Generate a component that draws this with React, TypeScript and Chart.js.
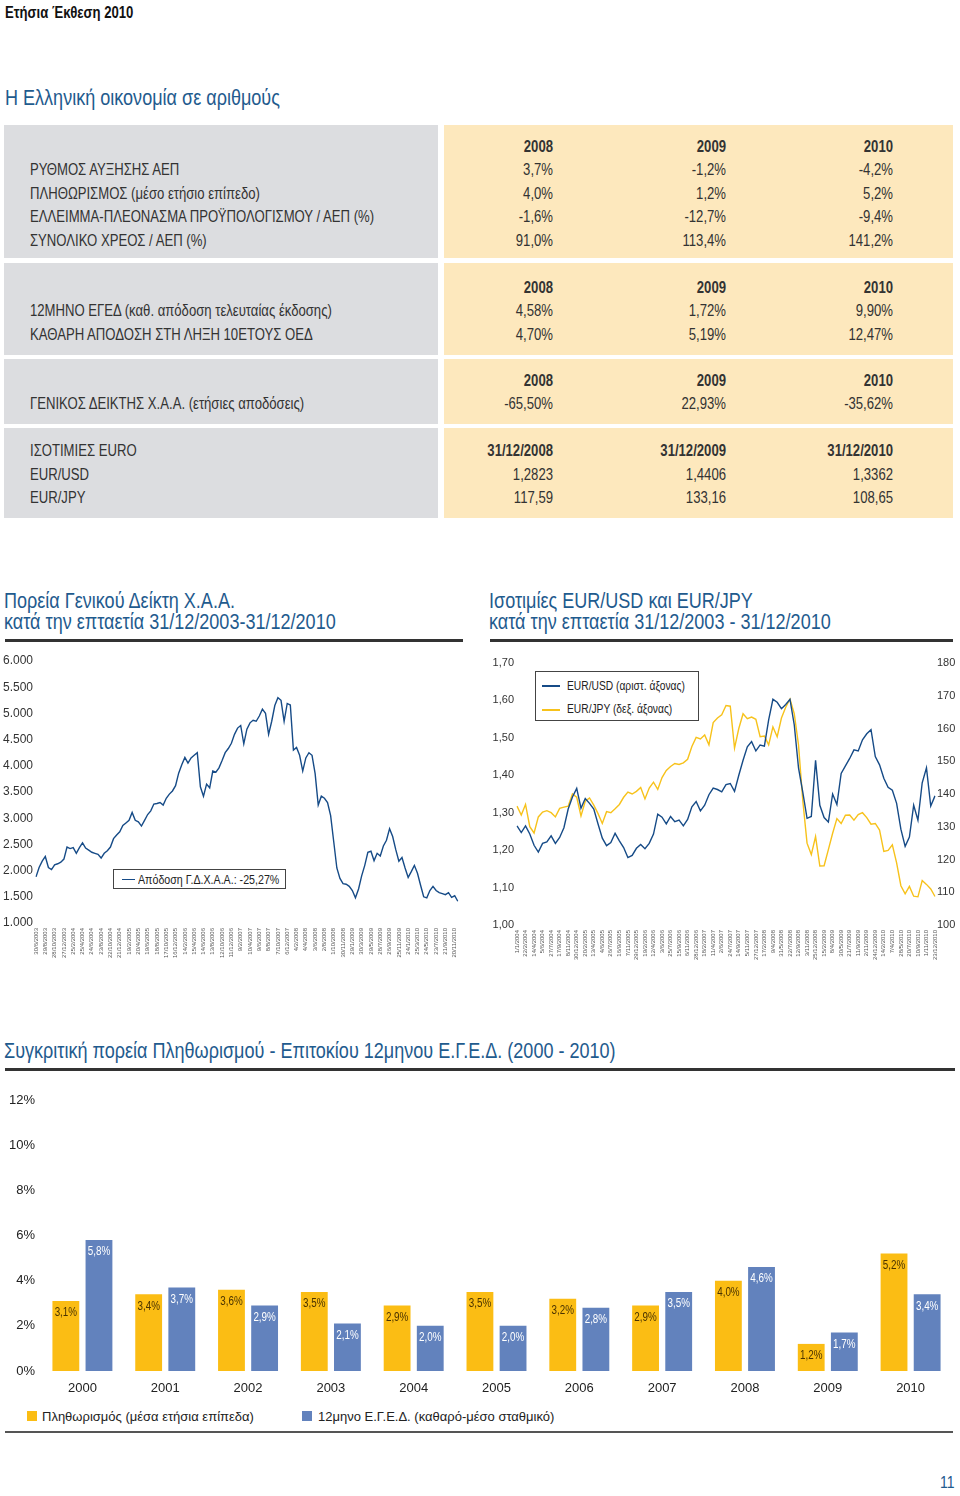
import React, { useEffect, useRef } from 'react';
import { Chart, registerables } from 'chart.js';

Chart.register(...registerables);

const SANS = '"Liberation Sans", Arial, sans-serif';
const NARROW_SCALE = 0.82;
const TITLE_BLUE = '#1f5b8e';
const TEXT = '#333333';

// ---------- Table data ----------
const tableYears = ['2008', '2009', '2010'];
const rateDates = ['31/12/2008', '31/12/2009', '31/12/2010'];
const macroLabels = [
  'ΡΥΘΜΟΣ ΑΥΞΗΣΗΣ ΑΕΠ',
  'ΠΛΗΘΩΡΙΣΜΟΣ (μέσο ετήσιο επίπεδο)',
  'ΕΛΛΕΙΜΜΑ-ΠΛΕΟΝΑΣΜΑ ΠΡΟΫΠΟΛΟΓΙΣΜΟΥ / ΑΕΠ (%)',
  'ΣΥΝΟΛΙΚΟ ΧΡΕΟΣ / ΑΕΠ (%)',
];
const macroValues = [
  ['3,7%', '-1,2%', '-4,2%'],
  ['4,0%', '1,2%', '5,2%'],
  ['-1,6%', '-12,7%', '-9,4%'],
  ['91,0%', '113,4%', '141,2%'],
];
const bondLabels = ['12ΜΗΝΟ ΕΓΕΔ (καθ. απόδοση τελευταίας έκδοσης)', 'ΚΑΘΑΡΗ ΑΠΟΔΟΣΗ ΣΤΗ ΛΗΞΗ 10ΕΤΟΥΣ ΟΕΔ'];
const bondValues = [
  ['4,58%', '1,72%', '9,90%'],
  ['4,70%', '5,19%', '12,47%'],
];
const indexLabels = ['ΓΕΝΙΚΟΣ ΔΕΙΚΤΗΣ Χ.Α.Α. (ετήσιες αποδόσεις)'];
const indexValues = [['-65,50%', '22,93%', '-35,62%']];
const fxHeaderLabel = 'ΙΣΟΤΙΜΙΕΣ EURO';
const fxLabels = ['EUR/USD', 'EUR/JPY'];
const fxValues = [
  ['1,2823', '1,4406', '1,3362'],
  ['117,59', '133,16', '108,65'],
];

// ---------- ATHEX general index ----------
const athexDates = ['30/6/2003', '29/8/2003', '28/10/2003', '27/12/2003', '25/2/2004', '25/4/2004', '24/6/2004', '23/8/2004', '22/10/2004', '21/12/2004', '19/2/2005', '20/4/2005', '19/6/2005', '18/8/2005', '17/10/2005', '16/12/2005', '14/2/2006', '15/4/2006', '14/6/2006', '13/8/2006', '12/10/2006', '11/12/2006', '9/2/2007', '10/4/2007', '9/6/2007', '8/8/2007', '7/10/2007', '6/12/2007', '4/2/2008', '4/4/2008', '3/6/2008', '2/8/2008', '1/10/2008', '30/11/2008', '29/1/2009', '30/3/2009', '29/5/2009', '28/7/2009', '26/9/2009', '25/11/2009', '24/1/2010', '25/3/2010', '24/5/2010', '23/7/2010', '21/9/2010', '20/11/2010'];
const athexValues = [
  1880, 2060, 2180, 2270, 2060, 2020, 2110, 2130, 2160, 2220,
  2450, 2420, 2440, 2330, 2440, 2530, 2430, 2390, 2350, 2330,
  2310, 2240, 2330, 2380, 2450, 2610, 2680, 2740, 2860, 2910,
  2960, 3110, 2960, 2930, 2850, 2960, 3070, 3140, 3270, 3280,
  3300, 3250, 3380, 3460, 3520, 3620, 3860, 4020, 4160, 4050,
  4150, 4200, 4250, 3600, 3420, 3650, 3580, 3900, 3880, 3960,
  4100, 4250, 4330, 4430, 4600, 4720, 4770, 4420, 4700, 4820,
  4870, 4850, 4950, 5080, 5000, 4600, 4850, 5150, 5300, 5250,
  4850, 5190, 5160, 4300, 4350, 4200, 3900, 4150, 4250, 4200,
  3850, 3250, 3420, 3380, 3300, 3050, 2550, 2050, 1850, 1750,
  1740, 1700, 1620, 1480, 1650, 1900, 2100, 2350, 2370, 2190,
  2330, 2280, 2470, 2580, 2800, 2650, 2400, 2180, 2250, 2050,
  1870, 1980, 2100, 1950, 1720, 1500, 1480, 1620, 1700, 1620,
  1580, 1560, 1540, 1580, 1490, 1520, 1415,
];
const athexLegend = 'Απόδοση Γ.Δ.Χ.Α.Α.: -25,27%';

// ---------- EUR/USD & EUR/JPY ----------
const fxDates = ['1/1/2004', '22/2/2004', '14/4/2004', '5/6/2004', '27/7/2004', '17/9/2004', '8/11/2004', '30/12/2004', '20/2/2005', '13/4/2005', '4/6/2005', '26/7/2005', '16/9/2005', '7/11/2005', '29/12/2005', '19/2/2006', '12/4/2006', '3/6/2006', '25/7/2006', '15/9/2006', '6/11/2006', '28/12/2006', '18/2/2007', '11/4/2007', '2/6/2007', '24/7/2007', '14/9/2007', '5/11/2007', '27/12/2007', '17/2/2008', '9/4/2008', '31/5/2008', '22/7/2008', '12/9/2008', '3/11/2008', '25/12/2008', '15/2/2009', '8/4/2009', '30/5/2009', '21/7/2009', '11/9/2009', '2/11/2009', '24/12/2009', '14/2/2010', '7/4/2010', '28/5/2010', '20/7/2010', '10/9/2010', '1/11/2010', '23/12/2010'];
const eurUsd = [
  1.265, 1.247, 1.265, 1.243, 1.213, 1.195, 1.218, 1.222, 1.238, 1.218,
  1.234, 1.260, 1.310, 1.342, 1.365, 1.312, 1.338, 1.325, 1.310, 1.270,
  1.232, 1.212, 1.220, 1.245, 1.225, 1.207, 1.180, 1.186, 1.205, 1.215,
  1.204, 1.218, 1.243, 1.296, 1.288, 1.270, 1.290, 1.276, 1.280, 1.265,
  1.282, 1.316, 1.330, 1.305, 1.320, 1.348, 1.366, 1.362, 1.356, 1.375,
  1.378, 1.357, 1.400, 1.440, 1.476, 1.490, 1.465, 1.481, 1.478, 1.548,
  1.603, 1.595, 1.578, 1.589, 1.603, 1.535, 1.420, 1.355, 1.285, 1.290,
  1.440, 1.320, 1.287, 1.275, 1.350, 1.322, 1.405, 1.425, 1.445, 1.468,
  1.465, 1.495, 1.511, 1.522, 1.450, 1.428, 1.392, 1.368, 1.360, 1.325,
  1.256, 1.210, 1.235, 1.320, 1.280, 1.380, 1.420, 1.318, 1.345,
];
const eurJpy = [
  136.3, 133.6, 136.8, 130.0, 128.1, 133.0, 134.5, 134.9, 134.3, 133.0,
  135.6, 136.0, 136.3, 140.0, 139.0, 133.3, 137.8, 138.8, 136.6, 134.0,
  131.0, 134.6, 134.3, 135.5, 136.8, 139.0, 140.6, 140.0, 140.8, 142.0,
  138.5, 141.8, 143.6, 141.4, 145.0, 147.2, 148.4, 149.3, 149.0, 149.5,
  150.6, 154.5, 157.3, 156.8, 158.0, 155.0, 161.8, 163.2, 164.2, 167.0,
  166.8, 154.0, 160.0, 164.5, 163.0, 163.5, 162.8, 157.5, 157.7, 155.0,
  160.5, 157.5, 163.2, 166.5, 169.0, 164.5, 155.0, 138.0, 125.0, 121.5,
  127.0, 118.0, 118.1, 123.0, 128.0, 132.5, 131.0, 133.5, 133.6, 132.0,
  133.7, 134.3, 132.8, 130.8, 131.0, 129.0, 122.5, 122.8, 124.5, 119.0,
  112.0, 109.5, 111.8, 108.8, 108.6, 113.6, 112.4, 111.0, 108.7,
];
const usdLegend = 'EUR/USD (αριστ. άξονας)';
const jpyLegend = 'EUR/JPY (δεξ. άξονας)';

// ---------- Inflation vs T-bill ----------
const barYears = ['2000', '2001', '2002', '2003', '2004', '2005', '2006', '2007', '2008', '2009', '2010'];
const inflation = [3.1, 3.4, 3.6, 3.5, 2.9, 3.5, 3.2, 2.9, 4.0, 1.2, 5.2];
const tbill = [5.8, 3.7, 2.9, 2.1, 2.0, 2.0, 2.8, 3.5, 4.6, 1.7, 3.4];
const inflationLegend = 'Πληθωρισμός (μέσα ετήσια επίπεδα)';
const tbillLegend = '12μηνο Ε.Γ.Ε.Δ. (καθαρό-μέσο σταθμικό)';

const LINE_BLUE = '#164b87';
const FX_YELLOW = '#f7c21b';
const BAR_YELLOW = '#fbbd14';
const BAR_BLUE = '#6282bd';
const TABLE_GRAY = '#dcdde0';
const TABLE_YELLOW = '#fde8bd';

type TxtProps = {
  x: number; y: number; text: string; size?: number; color?: string;
  bold?: boolean; align?: 'left' | 'right'; w?: number; narrow?: boolean;
};
function Txt({ x, y, text, size = 16, color = TEXT, bold = false, align = 'left', w = 400, narrow = true }: TxtProps) {
  const lh = Math.round(size * 1.3);
  const style: React.CSSProperties = {
    position: 'absolute', top: y - lh / 2, lineHeight: lh + 'px', fontSize: size, fontFamily: SANS,
    color, fontWeight: bold ? 700 : 400, whiteSpace: 'nowrap',
  };
  if (align === 'left') {
    style.left = x;
    if (narrow) { style.transform = `scaleX(${NARROW_SCALE})`; style.transformOrigin = 'left center'; }
  } else {
    style.left = x - w; style.width = w; style.textAlign = 'right';
    if (narrow) { style.transform = `scaleX(${NARROW_SCALE})`; style.transformOrigin = 'right center'; }
  }
  return <div style={style}>{text}</div>;
}

function Box({ x, y, w, h, bg }: { x: number; y: number; w: number; h: number; bg: string }) {
  return <div style={{ position: 'absolute', left: x, top: y, width: w, height: h, background: bg }} />;
}

const COLS = [553, 726, 893];
const ROW = 23.5;

function TableGroup({ top, bottom, headerY, headers, headerLabel, labels, values }: {
  top: number; bottom: number; headerY: number; headers: string[]; headerLabel?: string; labels: string[]; values: string[][];
}) {
  return (
    <>
      <Box x={4} y={top} w={434} h={bottom - top} bg={TABLE_GRAY} />
      <Box x={444} y={top} w={509} h={bottom - top} bg={TABLE_YELLOW} />
      {headers.map((h, i) => <Txt key={'h' + i} x={COLS[i]} y={headerY} text={h} bold align="right" w={150} />)}
      {headerLabel ? <Txt x={30} y={headerY} text={headerLabel} /> : null}
      {labels.map((l, r) => <Txt key={'l' + r} x={30} y={headerY + ROW * (r + 1)} text={l} />)}
      {values.map((row, r) => row.map((v, c) => (
        <Txt key={'v' + r + '_' + c} x={COLS[c]} y={headerY + ROW * (r + 1)} text={v} align="right" w={150} />
      )))}
    </>
  );
}

function Line({ x, y, w, h, color }: { x: number; y: number; w: number; h: number; color: string }) {
  return <div style={{ position: 'absolute', left: x, top: y, width: w, height: h, background: color }} />;
}

function AthexChart() {
  const ref = useRef<HTMLCanvasElement | null>(null);
  useEffect(() => {
    if (!ref.current) return;
    const labels = athexValues.map((_, i) => (i % 3 === 0 && athexDates[i / 3] ? athexDates[i / 3] : ''));
    const chart = new Chart(ref.current, {
      type: 'line',
      data: {
        labels,
        datasets: [{
          data: athexValues, borderColor: LINE_BLUE, borderWidth: 1.4, pointRadius: 0, tension: 0, fill: false,
        }],
      },
      options: {
        animation: false, responsive: false, maintainAspectRatio: false,
        layout: { padding: { top: 11, right: 5, left: 0, bottom: 0 } },
        plugins: { legend: { display: false }, tooltip: { enabled: false } },
        scales: {
          x: {
            grid: { display: false, drawTicks: false }, border: { display: false },
            ticks: { autoSkip: false, maxRotation: 90, minRotation: 90, padding: 5, color: '#555', font: { family: SANS, size: 6 } },
            afterFit: (s: any) => { s.height = 57; },
          },
          y: {
            min: 1000, max: 6000,
            grid: { display: false, drawTicks: false }, border: { display: false },
            ticks: {
              stepSize: 500, padding: 3, color: TEXT, font: { family: SANS, size: 12 },
              callback: (v: any) => Number(v).toLocaleString('de-DE'),
            },
            afterFit: (s: any) => { s.width = 36; },
          },
        },
      },
    });
    return () => chart.destroy();
  }, []);
  return <canvas ref={ref} width={470} height={330} style={{ position: 'absolute', left: 0, top: 650, width: 470, height: 330 }} />;
}

function FxChart() {
  const ref = useRef<HTMLCanvasElement | null>(null);
  useEffect(() => {
    if (!ref.current) return;
    const labels = eurUsd.map((_, i) => (i % 2 === 0 && fxDates[i / 2] ? fxDates[i / 2] : ''));
    const chart = new Chart(ref.current, {
      type: 'line',
      data: {
        labels,
        datasets: [
          { data: eurUsd, yAxisID: 'y', borderColor: LINE_BLUE, borderWidth: 1.4, pointRadius: 0, tension: 0, fill: false, order: 0 },
          { data: eurJpy, yAxisID: 'y1', borderColor: FX_YELLOW, borderWidth: 1.4, pointRadius: 0, tension: 0, fill: false, order: 1 },
        ],
      },
      options: {
        animation: false, responsive: false, maintainAspectRatio: false,
        layout: { padding: { top: 13, right: 0, left: 0, bottom: 0 } },
        plugins: { legend: { display: false }, tooltip: { enabled: false } },
        scales: {
          x: {
            grid: { display: false, drawTicks: false }, border: { display: false },
            ticks: { autoSkip: false, maxRotation: 90, minRotation: 90, padding: 5, color: '#555', font: { family: SANS, size: 6 } },
            afterFit: (s: any) => { s.height = 55; },
          },
          y: {
            position: 'left', min: 1, max: 1.7,
            grid: { display: false, drawTicks: false }, border: { display: false },
            ticks: {
              stepSize: 0.1, padding: 3, color: TEXT, font: { family: SANS, size: 11 },
              callback: (v: any) => Number(v).toFixed(2).replace('.', ','),
            },
            afterFit: (s: any) => { s.width = 37; },
          },
          y1: {
            position: 'right', min: 100, max: 180,
            grid: { display: false, drawTicks: false }, border: { display: false },
            ticks: { stepSize: 10, padding: 2, color: TEXT, font: { family: SANS, size: 11 } },
            afterFit: (s: any) => { s.width = 25; },
          },
        },
      },
    });
    return () => chart.destroy();
  }, []);
  return <canvas ref={ref} width={480} height={330} style={{ position: 'absolute', left: 480, top: 650, width: 480, height: 330 }} />;
}

const barLabelPlugin = {
  id: 'barLabels',
  afterDatasetsDraw(chart: any) {
    const ctx = chart.ctx;
    chart.data.datasets.forEach((ds: any, di: number) => {
      const meta = chart.getDatasetMeta(di);
      meta.data.forEach((bar: any, i: number) => {
        const v = ds.data[i];
        ctx.save();
        ctx.font = '12px ' + SANS;
        ctx.textAlign = 'center';
        ctx.textBaseline = 'middle';
        ctx.fillStyle = di === 0 ? '#4a3300' : '#ffffff';
        ctx.translate(bar.x, bar.y + 12);
        ctx.scale(NARROW_SCALE, 1);
        ctx.fillText(v.toFixed(1).replace('.', ',') + '%', 0, 0);
        ctx.restore();
      });
    });
  },
};

function BarChart() {
  const ref = useRef<HTMLCanvasElement | null>(null);
  useEffect(() => {
    if (!ref.current) return;
    const chart = new Chart(ref.current, {
      type: 'bar',
      data: {
        labels: barYears,
        datasets: [
          { data: inflation, backgroundColor: BAR_YELLOW, categoryPercentage: 0.8, barPercentage: 0.81 },
          { data: tbill, backgroundColor: BAR_BLUE, categoryPercentage: 0.8, barPercentage: 0.81 },
        ],
      },
      options: {
        animation: false, responsive: false, maintainAspectRatio: false,
        layout: { padding: { top: 15, right: 8, left: 0, bottom: 0 } },
        plugins: { legend: { display: false }, tooltip: { enabled: false } },
        scales: {
          x: {
            grid: { display: false, drawTicks: false }, border: { display: false },
            ticks: { padding: 10, color: '#222', font: { family: SANS, size: 13 } },
            afterFit: (s: any) => { s.height = 34; },
          },
          y: {
            min: 0, max: 12,
            grid: { display: false, drawTicks: false }, border: { display: false },
            ticks: { stepSize: 2, padding: 6, color: '#222', font: { family: SANS, size: 13 }, callback: (v: any) => v + '%' },
            afterFit: (s: any) => { s.width = 41; },
          },
        },
      },
      plugins: [barLabelPlugin],
    });
    return () => chart.destroy();
  }, []);
  return <canvas ref={ref} width={960} height={320} style={{ position: 'absolute', left: 0, top: 1085, width: 960, height: 320 }} />;
}

export default function App() {
  return (
    <div style={{ position: 'absolute', left: 0, top: 0, width: 960, height: 1496, overflow: 'hidden', background: '#fff' }}>
      <Txt x={5} y={12} text="Ετήσια Έκθεση 2010" size={16} bold color="#111" />
      <Txt x={5} y={97} text="Η Ελληνική οικονομία σε αριθμούς" size={22} color={TITLE_BLUE} />

      <TableGroup top={125} bottom={258} headerY={146} headers={tableYears} labels={macroLabels} values={macroValues} />
      <TableGroup top={263} bottom={355} headerY={287} headers={tableYears} labels={bondLabels} values={bondValues} />
      <TableGroup top={359} bottom={424} headerY={380} headers={tableYears} labels={indexLabels} values={indexValues} />
      <TableGroup top={428} bottom={518} headerY={450.5} headers={rateDates} headerLabel={fxHeaderLabel} labels={fxLabels} values={fxValues} />

      <Txt x={4} y={600} text="Πορεία Γενικού Δείκτη Χ.Α.Α." size={22} color={TITLE_BLUE} />
      <Txt x={4} y={621} text="κατά την επταετία 31/12/2003-31/12/2010" size={22} color={TITLE_BLUE} />
      <Line x={5} y={639} w={458} h={3} color="#333" />

      <Txt x={489} y={600} text="Ισοτιμίες EUR/USD και EUR/JPY" size={22} color={TITLE_BLUE} />
      <Txt x={489} y={621} text="κατά την επταετία 31/12/2003 - 31/12/2010" size={22} color={TITLE_BLUE} />
      <Line x={490} y={639} w={463} h={3} color="#333" />

      <AthexChart />
      <div style={{ position: 'absolute', left: 113, top: 869, width: 171, height: 18, border: '1.5px solid #444', background: '#fff' }} />
      <Line x={122} y={878.5} w={13} h={1.5} color={LINE_BLUE} />
      <Txt x={138} y={879} text={athexLegend} size={13} color="#222" />

      <FxChart />
      <div style={{ position: 'absolute', left: 535, top: 671, width: 162, height: 48, border: '1.5px solid #444', background: '#fff' }} />
      <Line x={542} y={685} w={18} h={2} color={LINE_BLUE} />
      <Txt x={567} y={686} text={usdLegend} size={12.5} color="#222" />
      <Line x={542} y={708.5} w={18} h={2} color={FX_YELLOW} />
      <Txt x={567} y={709} text={jpyLegend} size={12.5} color="#222" />

      <Txt x={4} y={1050} text="Συγκριτική πορεία Πληθωρισμού - Επιτοκίου 12μηνου Ε.Γ.Ε.Δ. (2000 - 2010)" size={22} color={TITLE_BLUE} />
      <Line x={5} y={1068} w={950} h={2.5} color="#333" />

      <BarChart />
      <div style={{ position: 'absolute', left: 27, top: 1411, width: 10, height: 10, background: BAR_YELLOW }} />
      <Txt x={42} y={1416} text={inflationLegend} size={13} color="#222" narrow={false} />
      <div style={{ position: 'absolute', left: 302, top: 1411, width: 10, height: 10, background: BAR_BLUE }} />
      <Txt x={318} y={1416} text={tbillLegend} size={13} color="#222" narrow={false} />
      <Line x={5} y={1431} w={948} h={1.5} color="#555" />

      <Txt x={940} y={1483} text="11" size={17} color={TITLE_BLUE} />
    </div>
  );
}
